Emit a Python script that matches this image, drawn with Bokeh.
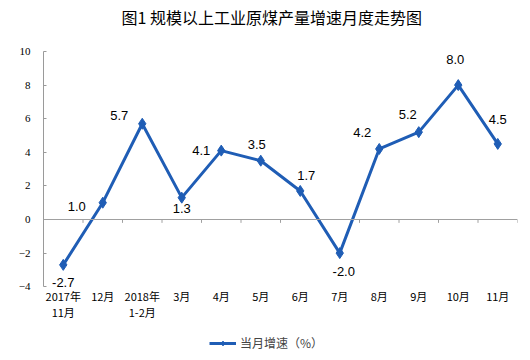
from bokeh.plotting import figure
from bokeh.models import Range1d, Span, Legend, LegendItem, ColumnDataSource, FixedTicker, Label
from bokeh.core.properties import value
from bokeh.embed import file_html
from bokeh.resources import INLINE

title_text = "图1  规模以上工业原煤产量增速月度走势图"
months = ["2017年\n11月", "12月", "2018年\n1-2月", "3月", "4月", "5月", "6月", "7月", "8月", "9月", "10月", "11月"]
growth = [-2.7, 1.0, 5.7, 1.3, 4.1, 3.5, 1.7, -2.0, 4.2, 5.2, 8.0, 4.5]
labels = ["%.1f" % v for v in growth]
y_ticks = [-4, -2, 0, 2, 4, 6, 8, 10]

# label placement offsets in pixels (style)
dx = [0, -26, -23, 0, -20, -4, 6, 4, -17, -11, -3, 0]
dy = [18, 4, -8, 11, 0, -16, -15, 18, -16, -18, -26, -24]

BLUE = "#1f5db5"

xs = list(range(len(months)))
n = len(months)

# frame covers the full canvas height; the value axis is bounded to -4..10
W, H = 530, 360
px_per_unit = 16.8
top_px = 51
y_hi = 10 + top_px / px_per_unit
y_lo = y_hi - H / px_per_unit

p = figure(width=W, height=H, x_range=Range1d(-0.5, n - 0.5), y_range=Range1d(y_lo, y_hi),
           output_backend="svg", toolbar_location=None,
           min_border_left=43, min_border_right=13, min_border_top=0, min_border_bottom=0)
p.outline_line_color = None
p.grid.visible = False

p.yaxis.ticker = FixedTicker(ticks=y_ticks)
p.yaxis.bounds = (-4, 10)
p.yaxis.axis_line_color = "#9a9a9a"
p.yaxis.major_tick_line_color = "#9a9a9a"
p.yaxis.major_tick_in = 3
p.yaxis.major_tick_out = 0
p.yaxis.minor_tick_line_color = None
p.yaxis.major_label_text_font = "Liberation Serif"
p.yaxis.major_label_text_font_size = "11px"
p.yaxis.major_label_text_color = "#000000"
p.yaxis.major_label_standoff = 13

p.xaxis.fixed_location = -3.7
p.xaxis.ticker = FixedTicker(ticks=xs)
p.xaxis.major_label_overrides = {i: m for i, m in enumerate(months)}
p.xaxis.axis_line_color = None
p.xaxis.major_tick_line_color = None
p.xaxis.minor_tick_line_color = None
p.xaxis.major_label_text_font = "Noto Sans CJK SC"
p.xaxis.major_label_text_font_size = "11px"
p.xaxis.major_label_text_line_height = 1.05
p.xaxis.major_label_text_color = "#000000"
p.xaxis.major_label_standoff = 0

# zero line with category separators
p.add_layout(Span(location=0, dimension="width", line_color="#a0a0a0", line_width=1))
sep_x = [i + 0.5 for i in xs]
p.segment(x0=sep_x, y0=[0] * n, x1=sep_x, y1=[-0.2] * n, line_color="#a0a0a0", line_width=1)

src = ColumnDataSource(dict(x=xs, y=growth, t=labels, dx=dx, dy=dy))
ln = p.line("x", "y", source=src, line_color=BLUE, line_width=3)
mk = p.scatter("x", "y", source=src, marker="diamond", size=11, fill_color=BLUE, line_color=BLUE)
p.text("x", "y", text="t", source=src, x_offset="dx", y_offset="dy",
       text_font=value("Liberation Sans"), text_font_size="13px", text_color="#000000",
       text_align="center", text_baseline="middle")

legend = Legend(items=[LegendItem(label="当月增速（%）", renderers=[ln, mk])],
                location=(166, 9), orientation="horizontal", padding=0, margin=0,
                glyph_width=27, glyph_height=12, label_standoff=4,
                label_text_font="Noto Sans CJK SC", label_text_font_size="12px",
                border_line_color=None, background_fill_alpha=0)
p.add_layout(legend, "center")

# title, in screen units from the frame's bottom-left corner
p.add_layout(Label(x=230, y=H - 16, x_units="screen", y_units="screen", text=title_text,
                   text_font="Noto Sans CJK SC", text_font_size="16px", text_color="#000000",
                   text_align="center", text_baseline="middle"))

open("out.html", "w").write(file_html(p, INLINE))
